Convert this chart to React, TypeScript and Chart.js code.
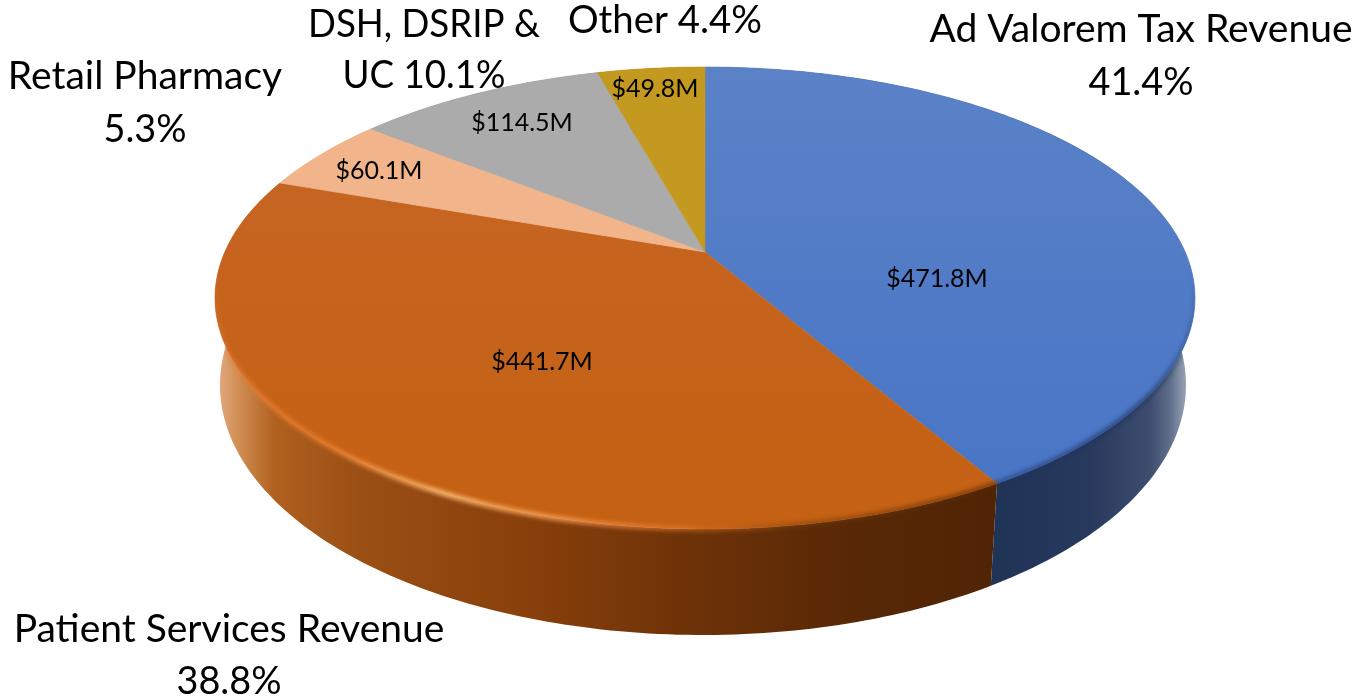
import React, { useEffect, useRef } from "react";
import { Chart, registerables } from "chart.js";

Chart.register(...registerables);

const categories = ["Ad Valorem Tax Revenue", "Patient Services Revenue", "Retail Pharmacy", "DSH, DSRIP & UC", "Other"];
const revenueMillions = [471.8, 441.7, 60.1, 114.5, 49.8];
const valueLabels = ["$471.8M", "$441.7M", "$60.1M", "$114.5M", "$49.8M"];
const faceColors = ["#4f79c6", "#c5641d", "#f1b48b", "#ababab", "#c4991f"];

const W = 1356, H = 696;
const TOP = { cx: 705, cy: 298, rx: 490, ry: 231 };
const BOTTOM = { cx: 703, cy: 385, rx: 483, ry: 250 };
const APEX = { x: 705, y: 252 };

// [text, centre x, baseline y, max width]
const outerText: [string, number, number, number][] = [
  ["Ad Valorem Tax Revenue", 1141, 42, 423],
  ["41.4%", 1141, 95, 105],
  ["Other 4.4%", 665, 33, 194],
  ["DSH, DSRIP &", 424, 37, 232],
  ["UC 10.1%", 424, 88, 163],
  ["Retail Pharmacy", 145, 89, 277],
  ["5.3%", 145, 142, 83],
  ["Patient Services Revenue", 229, 642, 431],
  ["38.8%", 229, 694, 105],
];
const innerAnchors: [number, number][] = [[937, 287], [542, 370], [379, 179], [522, 131], [655, 97]];

function topPoint(theta: number) {
  const dx = Math.sin(theta) * TOP.rx, dy = -Math.cos(theta) * TOP.ry;
  const ox = (APEX.x - TOP.cx) / TOP.rx, oy = (APEX.y - TOP.cy) / TOP.ry;
  const ux = dx / TOP.rx, uy = dy / TOP.ry;
  const a = ux * ux + uy * uy, b = 2 * (ox * ux + oy * uy), c = ox * ox + oy * oy - 1;
  const t = (-b + Math.sqrt(b * b - 4 * a * c)) / (2 * a);
  return { x: APEX.x + dx * t, y: APEX.y + dy * t };
}
function bottomPoint(p: { x: number; y: number }) {
  return {
    x: BOTTOM.cx + ((p.x - TOP.cx) / TOP.rx) * BOTTOM.rx,
    y: BOTTOM.cy + ((p.y - TOP.cy) / TOP.ry) * BOTTOM.ry,
  };
}
function samples(a0: number, a1: number) {
  const out = [];
  const n = Math.max(8, Math.ceil((a1 - a0) * 60));
  for (let i = 0; i <= n; i++) out.push(topPoint(a0 + ((a1 - a0) * i) / n + Math.PI / 2));
  return out;
}
function hGrad(ctx: CanvasRenderingContext2D, stops: [number, string][]) {
  const x0 = stops[0][0], x1 = stops[stops.length - 1][0];
  const g = ctx.createLinearGradient(x0, 0, x1, 0);
  stops.forEach(([x, c]) => g.addColorStop((x - x0) / (x1 - x0), c));
  return g;
}
function vGrad(ctx: CanvasRenderingContext2D, c0: string, c1: string) {
  const g = ctx.createLinearGradient(0, 68, 0, 530);
  g.addColorStop(0, c0);
  g.addColorStop(1, c1);
  return g;
}
function pieOutline(ctx: CanvasRenderingContext2D) {
  ctx.beginPath();
  ctx.ellipse(TOP.cx, TOP.cy, TOP.rx, TOP.ry, 0, 0, Math.PI * 2);
  ctx.moveTo(BOTTOM.cx + BOTTOM.rx, BOTTOM.cy);
  ctx.ellipse(BOTTOM.cx, BOTTOM.cy, BOTTOM.rx, BOTTOM.ry, 0, 0, Math.PI * 2);
}

const pie3d = {
  id: "pie3d",
  beforeDatasetsDraw(chart: any) {
    const ctx: CanvasRenderingContext2D = chart.ctx;
    const arcs = chart.getDatasetMeta(0).data;
    const sideFills: any[] = [
      hGrad(ctx, [[985, "#1f3357"], [1090, "#28395e"], [1150, "#3d4d6e"], [1170, "#5f6e8a"], [1187, "#9aa6b8"]]),
      hGrad(ctx, [[220, "#e0a67c"], [240, "#cf8c50"], [275, "#b0601f"], [360, "#9a4f14"], [520, "#8a400b"], [680, "#6f3308"], [850, "#582806"], [1005, "#4f2405"]]),
      "#c98f66", "#808080", "#937316",
    ];
    const topFills: any[] = [
      vGrad(ctx, "#5b82c7", "#4774c6"),
      vGrad(ctx, "#c66627", "#c56112"),
      faceColors[2], faceColors[3], faceColors[4],
    ];
    // Side wall
    arcs.forEach((arc: any, i: number) => {
      const s = samples(arc.startAngle, arc.endAngle);
      ctx.beginPath();
      s.forEach((p: any, k: number) => (k ? ctx.lineTo(p.x, p.y) : ctx.moveTo(p.x, p.y)));
      [...s].reverse().forEach((p: any) => {
        const q = bottomPoint(p);
        ctx.lineTo(q.x, q.y);
      });
      ctx.closePath();
      ctx.fillStyle = sideFills[i];
      ctx.fill();
    });
    // Top face
    arcs.forEach((arc: any, i: number) => {
      const s = samples(arc.startAngle, arc.endAngle);
      ctx.beginPath();
      ctx.moveTo(APEX.x, APEX.y);
      s.forEach((p: any) => ctx.lineTo(p.x, p.y));
      ctx.closePath();
      ctx.fillStyle = topFills[i];
      ctx.strokeStyle = topFills[i];
      ctx.lineWidth = 0.6;
      ctx.fill();
      ctx.stroke();
    });
    // Bevel along the rim, faded out towards the back of the disc
    const bevels: any[] = [
      hGrad(ctx, [[990, "rgba(30,50,95,0.55)"], [1120, "rgba(30,50,95,0.7)"], [1195, "rgba(40,60,100,0.75)"]]),
      hGrad(ctx, [[215, "rgba(225,120,45,0.8)"], [330, "rgba(240,130,50,0.8)"], [440, "rgba(255,190,120,0.95)"], [560, "rgba(250,160,90,0.85)"], [680, "rgba(235,125,55,0.55)"], [800, "rgba(120,60,15,0.55)"], [1000, "rgba(85,40,8,0.7)"]]),
    ];
    [0, 1].forEach((i) => {
      const arc = arcs[i];
      const s = samples(arc.startAngle, arc.endAngle);
      const off = document.createElement("canvas");
      off.width = W;
      off.height = H;
      const o = off.getContext("2d")!;
      o.filter = "blur(2px)";
      o.beginPath();
      s.forEach((p: any, k: number) => (k ? o.lineTo(p.x, p.y) : o.moveTo(p.x, p.y)));
      o.strokeStyle = bevels[i];
      o.lineWidth = 5;
      o.stroke();
      o.filter = "none";
      o.globalCompositeOperation = "destination-in";
      const mask = o.createLinearGradient(0, 270, 0, 400);
      mask.addColorStop(0, "rgba(0,0,0,0)");
      mask.addColorStop(1, "rgba(0,0,0,1)");
      o.fillStyle = mask;
      o.fillRect(0, 0, W, H);
      ctx.save();
      pieOutline(ctx);
      ctx.clip();
      ctx.drawImage(off, 0, 0);
      ctx.restore();
    });
    // Text
    ctx.save();
    ctx.fillStyle = "#000";
    ctx.textAlign = "center";
    ctx.textBaseline = "alphabetic";
    ctx.font = "39px Lato";
    outerText.forEach(([t, x, y, w]) => ctx.fillText(t, x, y, w));
    ctx.font = "25px Lato";
    valueLabels.forEach((t, i) => ctx.fillText(t, innerAnchors[i][0], innerAnchors[i][1]));
    ctx.restore();
    return false;
  },
};

export default function App() {
  const ref = useRef<HTMLCanvasElement>(null);
  useEffect(() => {
    document.body.style.margin = "0";
    const chart = new Chart(ref.current!, {
      type: "pie",
      data: {
        labels: categories,
        datasets: [{ data: revenueMillions, backgroundColor: faceColors, borderWidth: 0 }],
      },
      options: {
        responsive: false,
        animation: false,
        events: [],
        plugins: { legend: { display: false }, tooltip: { enabled: false } },
      },
      plugins: [pie3d],
    } as any);
    return () => chart.destroy();
  }, []);
  return <canvas ref={ref} width={W} height={H} style={{ display: "block", width: W, height: H }} />;
}
